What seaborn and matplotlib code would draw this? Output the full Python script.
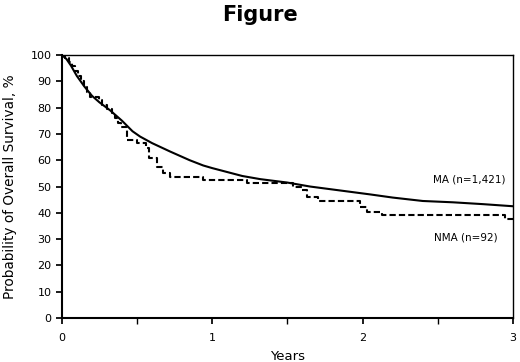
import matplotlib
matplotlib.use("Agg")
import matplotlib.pyplot as plt
import seaborn as sns
import pandas as pd

sns.set_theme(style="ticks")
plt.rcParams['font.family'] = ['DejaVu Sans']

# MA (n=1,421) - smooth survival curve
ma_years = [0.0, 0.03, 0.06, 0.1, 0.15, 0.2, 0.25, 0.32, 0.4, 0.47, 0.52, 0.6, 0.72, 0.85,
            0.94, 1.0, 1.1, 1.2, 1.32, 1.5, 1.65, 1.85, 2.05, 2.2, 2.4, 2.6, 2.8, 3.0]
ma_surv = [100, 98.5, 96, 92, 88, 84.5, 82, 79, 75, 71, 69, 66.5, 63.3, 60,
           58, 57, 55.5, 54, 52.8, 51.5, 50, 48.5, 47, 45.8, 44.5, 44, 43.3, 42.5]

# NMA (n=92) - step curve
nma_years = [0.0, 0.02, 0.05, 0.07, 0.09, 0.11, 0.13, 0.15, 0.17, 0.19, 0.25, 0.27, 0.3,
             0.33, 0.35, 0.37, 0.39, 0.43, 0.5, 0.56, 0.58, 0.63, 0.67, 0.72, 0.94, 1.23,
             1.54, 1.6, 1.63, 1.7, 1.98, 2.03, 2.13, 2.95, 3.0]
nma_surv = [100, 99, 97.5, 96, 94, 92, 90, 88, 86, 84, 83, 81, 79.5,
            78, 76, 74, 72.6, 67.7, 66.5, 64.6, 61, 57.4, 55, 53.6, 52.6, 51.5,
            49.8, 48.7, 46, 44.5, 42.2, 40.3, 39.2, 37.6, 37.6]

ma = pd.DataFrame({"Years": ma_years, "Survival": ma_surv})
nma = pd.DataFrame({"Years": nma_years, "Survival": nma_surv})

fig = plt.figure(figsize=(5.2, 3.62), dpi=100)
ax = fig.add_axes([0.119, 0.1215, 0.8675, 0.7265])

sns.lineplot(data=ma, x="Years", y="Survival", ax=ax, color="black", linewidth=1.5)
sns.lineplot(data=nma, x="Years", y="Survival", ax=ax, color="black", linewidth=1.5,
             linestyle=(0, (3, 1.5)), drawstyle="steps-post")

ax.set_xlim(0, 3)
ax.set_ylim(0, 100)
ax.set_xticks([0, 1, 2, 3])
ax.set_xticks([0.5, 1.5, 2.5], minor=True)
ax.set_yticks(range(0, 101, 10))
ax.tick_params(axis="x", direction="out", length=4, labelsize=8, pad=7,
               colors="black")
ax.tick_params(axis="x", which="minor", direction="out", length=4, width=1, color="black")
ax.tick_params(axis="y", direction="out", length=4, labelsize=8, colors="black")
for s in ax.spines.values():
    s.set_color("black")
    s.set_linewidth(1.0)
ax.spines["bottom"].set_linewidth(1.5)
ax.spines["left"].set_linewidth(1.5)

ax.set_xlabel("Years", fontsize=9.5, color="black", labelpad=5)
ax.set_ylabel("Probability of Overall Survival, %", fontsize=9.8, color="black",
              labelpad=10)

ax.text(2.95, 52.5, "MA (n=1,421)", ha="right", va="center", fontsize=7.5, color="black")
ax.text(2.9, 30.5, "NMA (n=92)", ha="right", va="center", fontsize=7.5, color="black")

fig.suptitle("Figure", x=0.5, y=0.985, fontsize=15, fontweight="heavy", color="black")

fig.savefig("out.png", dpi=100, facecolor="white")
